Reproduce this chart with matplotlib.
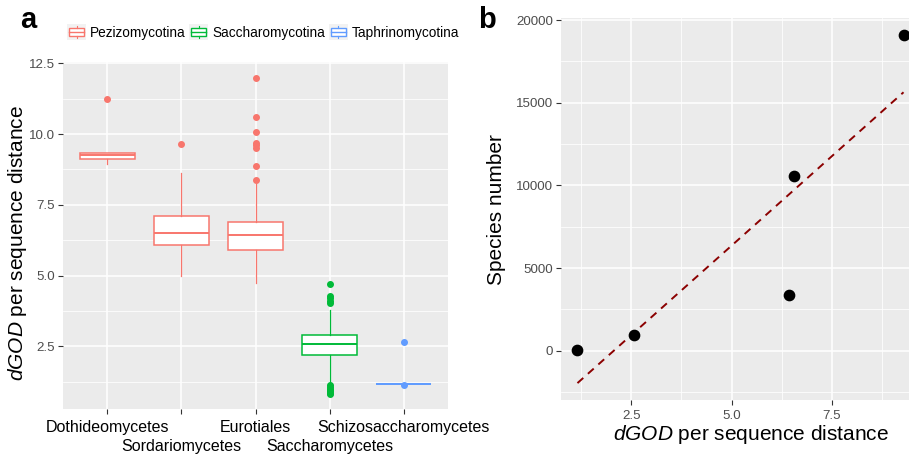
import numpy as np
import matplotlib
matplotlib.use("Agg")
import matplotlib.pyplot as plt
from matplotlib.patches import Rectangle, Patch
from matplotlib.lines import Line2D
from matplotlib.legend_handler import HandlerBase
from matplotlib.ticker import MultipleLocator

plt.rcParams['font.family'] = ['Liberation Sans', 'DejaVu Sans']
plt.rcParams['mathtext.fontset'] = 'custom'
plt.rcParams['mathtext.rm'] = 'Liberation Sans'
plt.rcParams['mathtext.it'] = 'Liberation Sans:italic'

# ---------------- data ----------------
classes = ["Dothideomycetes", "Sordariomycetes", "Eurotiales",
           "Saccharomycetes", "Schizosaccharomycetes"]
subphylum = ["Pezizomycotina", "Pezizomycotina", "Pezizomycotina",
             "Saccharomycotina", "Taphrinomycotina"]
q1 = [9.11, 6.07, 5.89, 2.19, 1.16]
med = [9.27, 6.52, 6.43, 2.57, 1.16]
q3 = [9.32, 7.12, 6.88, 2.88, 1.16]
whislo = [8.93, 4.98, 4.74, 1.25, 1.16]
whishi = [9.32, 8.63, 8.25, 3.77, 1.16]
fliers = [
    [11.23],
    [9.66],
    [11.97, 10.62, 10.09, 9.69, 9.60, 9.52, 8.86, 8.38],
    [4.71, 4.27, 4.20, 4.10, 4.03, 1.13, 1.05, 1.00, 0.95, 0.90, 0.85, 0.80],
    [2.65, 1.13],
]
sub_names = ["Pezizomycotina", "Saccharomycotina", "Taphrinomycotina"]
sub_colors = ["#F8766D", "#00BA38", "#619CFF"]

dgod = [1.16, 2.57, 6.44, 6.55, 9.28]
species = [30, 931, 3350, 10580, 19070]

# ---------------- figure ----------------
W, H = 909, 454
fig = plt.figure(figsize=(W / 100, H / 100), dpi=100)

def pos(x0, y0, x1, y1):
    return [x0 / W, 1 - y1 / H, (x1 - x0) / W, (y1 - y0) / H]

GREY_BG = "#EBEBEB"
TICKC = "#4D4D4D"

def style(ax):
    ax.set_facecolor(GREY_BG)
    for s in ax.spines.values():
        s.set_visible(False)
    ax.grid(which='major', color='white', lw=1.1)
    ax.grid(which='minor', color='white', lw=0.55)
    ax.set_axisbelow(True)
    ax.tick_params(which='major', length=3.5, width=0.8, color='#333333',
                   labelcolor=TICKC, labelsize=9.6, pad=2)
    ax.tick_params(which='minor', length=0)
    ax.tick_params(axis='x', pad=4)

# ---------- panel a ----------
axa = fig.add_axes(pos(63, 62, 448, 409))
style(axa)
cmap = dict(zip(sub_names, sub_colors))
for i in range(len(classes)):
    c = cmap[subphylum[i]]
    st = [dict(med=med[i], q1=q1[i], q3=q3[i], whislo=whislo[i],
               whishi=whishi[i], fliers=fliers[i])]
    axa.bxp(st, positions=[i + 1], widths=0.75, patch_artist=True,
            showcaps=False, manage_ticks=False,
            boxprops=dict(facecolor='white', edgecolor=c, lw=1.1),
            medianprops=dict(color=c, lw=1.4),
            whiskerprops=dict(color=c, lw=0.9),
            flierprops=dict(marker='o', markerfacecolor=c, markeredgecolor=c,
                            markersize=4))
axa.set_xlim(0.4, 5.6)
axa.set_ylim(0.28, 12.55)
axa.yaxis.set_minor_locator(MultipleLocator(1.25))
axa.set_yticks([2.5, 5.0, 7.5, 10.0, 12.5])
axa.set_yticklabels(["2.5", "5.0", "7.5", "10.0", "12.5"])
axa.set_xticks(range(1, 6))
axa.set_xticklabels(classes)
axa.tick_params(axis='x', labelcolor='black', labelsize=11.5, pad=4.5)
for j, t in enumerate(axa.xaxis.get_major_ticks()):
    if j % 2 == 1:
        t.set_pad(18)
axa.set_ylabel(r"$\mathit{dGOD}$ per sequence distance", fontsize=15)
axa.yaxis.set_label_coords((29 - 63) / 385, (409 - 243) / 347)

# legend
class BoxHandler(HandlerBase):
    def create_artists(self, legend, orig_handle, xdescent, ydescent,
                       width, height, fontsize, trans):
        c = orig_handle.get_edgecolor()
        x0, y0 = -xdescent, -ydescent
        bg = Rectangle((x0, y0), width, height, facecolor='#F2F2F2',
                       edgecolor='none', transform=trans)
        box = Rectangle((x0 + 0.1 * width, y0 + 0.25 * height), 0.8 * width,
                        0.5 * height, facecolor='white', edgecolor=c, lw=1.0,
                        transform=trans)
        cx = x0 + width / 2
        m = Line2D([x0 + 0.1 * width, x0 + 0.9 * width],
                   [y0 + 0.5 * height] * 2, color=c, lw=1.0, transform=trans)
        w1 = Line2D([cx, cx], [y0 + 0.1 * height, y0 + 0.25 * height],
                    color=c, lw=0.8, transform=trans)
        w2 = Line2D([cx, cx], [y0 + 0.75 * height, y0 + 0.9 * height],
                    color=c, lw=0.8, transform=trans)
        return [bg, box, m, w1, w2]

handles = [Patch(edgecolor=c, facecolor='white') for c in sub_colors]
fig.legend(handles, sub_names, handler_map={Patch: BoxHandler()},
           loc='center left', bbox_to_anchor=(67 / W, 1 - 32 / H), ncol=3,
           frameon=False, fontsize=9.8, handlelength=1.4, handleheight=1.4,
           handletextpad=0.3, columnspacing=0.25, borderpad=0, borderaxespad=0)

fig.text(20 / W, 1 - 20 / H, "a", fontsize=21, fontweight='bold',
         va='center', ha='left')

# ---------- panel b ----------
bx0, bx1, by0, by1 = 561, 920, 18, 400
axb = fig.add_axes(pos(bx0, by0, bx1, by1))
style(axb)
axb.scatter(dgod, species, s=55, color='black', zorder=3)
xs = np.array(dgod)
ys = np.array(species)
k, b0 = np.polyfit(xs, ys, 1)
xl = np.array([xs.min(), xs.max()])
axb.plot(xl, k * xl + b0, color='#8B0000', lw=1.4, ls=(0, (4, 3.2)), zorder=2)
axb.xaxis.set_minor_locator(MultipleLocator(1.25))
axb.set_xticks([2.5, 5.0, 7.5])
axb.set_xticklabels(["2.5", "5.0", "7.5"])
axb.set_yticks([0, 5000, 10000, 15000, 20000])
axb.set_yticklabels(["0", "5000", "10000", "15000", "20000"])
axb.yaxis.set_minor_locator(MultipleLocator(2500))
axb.set_xlim(0.75, 9.69)
axb.set_ylim(-2981, 20121)
axb.set_xlabel(r"$\mathit{dGOD}$ per sequence distance", fontsize=15)
axb.xaxis.set_label_coords((751 - bx0) / (bx1 - bx0), (by1 - 423) / (by1 - by0))
axb.set_ylabel("Species number", fontsize=15)
axb.yaxis.set_label_coords((506 - bx0) / (bx1 - bx0), (by1 - 210) / (by1 - by0))

fig.text(478 / W, 1 - 20 / H, "b", fontsize=21, fontweight='bold',
         va='center', ha='left')

fig.savefig("out.png", dpi=100)
